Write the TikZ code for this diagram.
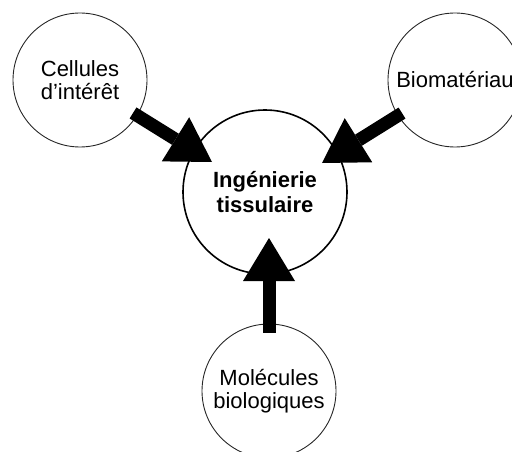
\documentclass[tikz,border=0pt]{standalone}
\usepackage{fontspec}
\setmainfont{Liberation Sans}
\usetikzlibrary{arrows.meta}
\begin{document}
\begin{tikzpicture}[x=1pt,y=-1pt,
  outer/.style={circle,draw=black!85,line width=0.9pt,minimum size=134pt,inner sep=0pt,align=center,font=\fontsize{22}{23.5}\selectfont},
  core/.style={circle,draw=black,line width=1.6pt,minimum size=164pt,inner sep=0pt,align=center,font=\fontsize{22}{25}\selectfont\bfseries},
  bigarrow/.style={line width=13pt,-{Triangle[width=52pt,length=43pt,line width=0pt]},shorten <=-5pt}]
\useasboundingbox (0,0) rectangle (512,452);
\node[core] (core) at (265,192) {Ingénierie\\tissulaire};
\node[outer] (cell) at (80,80) {Cellules\\d’intérêt};
\node[outer] (bio) at (455,80) {Biomatériau};
\node[outer] (mol) at (269,391) {Molécules\\biologiques};
\coordinate (tcell) at (212,162);
\coordinate (tbio) at (322,163);
\coordinate (tmol) at (269,238);
\draw[bigarrow] (cell) -- (tcell);
\draw[bigarrow] (bio) -- (tbio);
\draw[bigarrow,shorten <=-9pt] (mol) -- (tmol);
\end{tikzpicture}
\end{document}
